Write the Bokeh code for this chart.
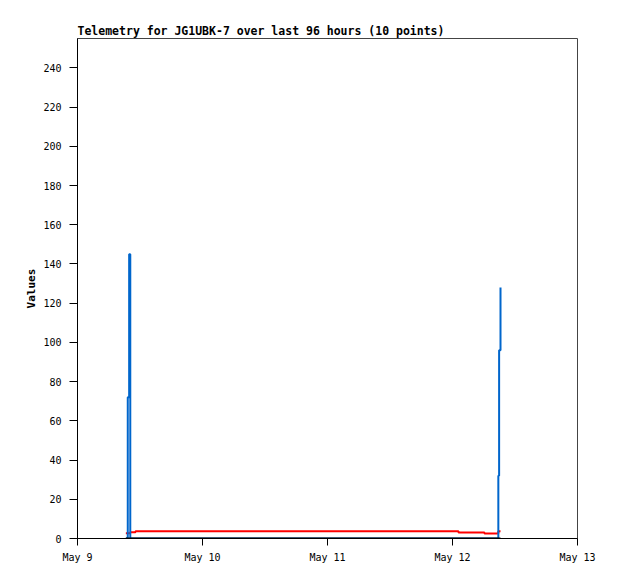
import pandas as pd
from bokeh.plotting import figure
from bokeh.models import Range1d, FixedTicker, CustomJSTickFormatter
from bokeh.embed import file_html
from bokeh.resources import INLINE

# ---- data ----
times = ["2024-05-09 09:17", "2024-05-09 09:39", "2024-05-09 09:55", "2024-05-09 10:08",
         "2024-05-09 11:08", "2024-05-12 01:09", "2024-05-12 06:08", "2024-05-12 08:48",
         "2024-05-12 08:57", "2024-05-12 09:13"]
blue_vals = [0, 72, 145, 0, 0, 0, 0, 32, 96, 128]
red_vals = [2.7, 2.7, 2.7, 3.2, 3.7, 3.1, 2.6, 3.7, 3.7, 3.7]
black_vals = [0, 0, 0, 0, 0, 0, 0, 0, 0, 0]
x_ticks = ["2024-05-09", "2024-05-10", "2024-05-11", "2024-05-12", "2024-05-13"]
y_ticks = [0, 20, 40, 60, 80, 100, 120, 140, 160, 180, 200, 220, 240]
y_max = 255
title = "Telemetry for JG1UBK-7 over last 96 hours (10 points)"

t = pd.to_datetime(times)
xt = [pd.Timestamp(d).value / 1e6 for d in x_ticks]

p = figure(width=610, height=570, x_axis_type="datetime",
           output_backend="svg", toolbar_location=None,
           x_range=Range1d(xt[0], xt[-1]), y_range=Range1d(0, y_max),
           min_border_left=77, min_border_right=33, min_border_top=38, min_border_bottom=32)

p.step(t, red_vals, mode="after", line_color="#ff0000", line_width=2)
p.step(t, blue_vals, mode="after", line_color="#0066cc", line_width=2)
p.step(t, black_vals, mode="after", line_color="#000000", line_width=2)

p.title.text = title
p.title.text_font = "DejaVu Sans Mono"
p.title.text_font_size = "11.5px"
p.title.text_font_style = "bold"
p.title.text_color = "black"
p.title.align = "left"
p.title.standoff = 2

p.xgrid.visible = False
p.ygrid.visible = False
p.outline_line_color = "#444444"
p.background_fill_color = "white"
p.border_fill_color = "white"

p.xaxis.ticker = FixedTicker(ticks=xt)
p.xaxis.formatter = CustomJSTickFormatter(code="""
const m = ['Jan','Feb','Mar','Apr','May','Jun','Jul','Aug','Sep','Oct','Nov','Dec'];
const d = new Date(tick);
return m[d.getUTCMonth()] + ' ' + d.getUTCDate();
""")
p.yaxis.ticker = FixedTicker(ticks=y_ticks)
p.yaxis.axis_label = "Values"

for ax in (p.xaxis[0], p.yaxis[0]):
    ax.axis_line_color = "black"
    ax.major_tick_line_color = "black"
    ax.minor_tick_line_color = None
    ax.major_tick_in = 0
    ax.major_label_text_font = "DejaVu Sans Mono"
    ax.major_label_text_font_size = "10px"
    ax.major_label_text_color = "black"
    ax.axis_label_text_font = "DejaVu Sans Mono"
    ax.axis_label_text_font_size = "11px"
    ax.axis_label_text_font_style = "bold"
    ax.axis_label_text_color = "black"

p.yaxis.major_tick_out = 8
p.yaxis.major_label_standoff = 8
p.yaxis.axis_label_standoff = 2
p.xaxis.major_tick_out = 7
p.xaxis.major_label_standoff = 6

open("out.html", "w").write(file_html(p, INLINE))
